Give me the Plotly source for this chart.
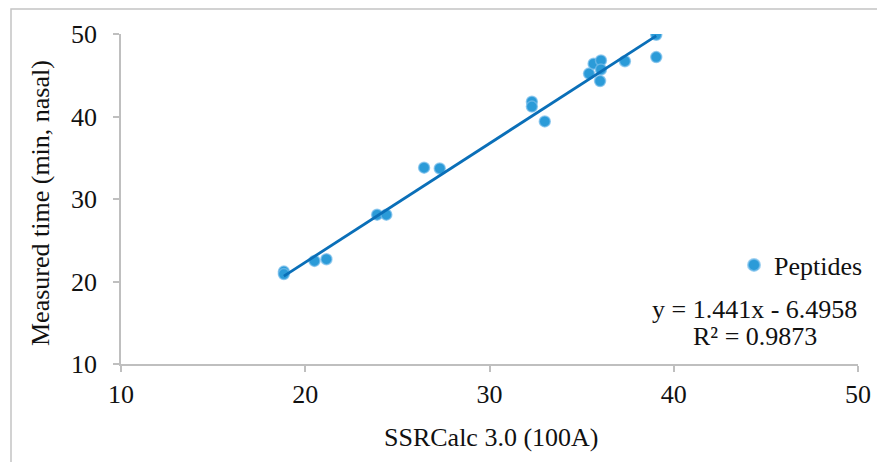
import plotly.graph_objects as go

# Data
ssrcalc = [18.84, 18.84, 20.5, 21.15, 23.9, 24.4, 26.45, 27.3, 32.3, 32.3, 33.0,
           35.4, 35.65, 36.05, 36.05, 36.0, 37.35, 39.05, 39.05]
measured = [21.2, 20.9, 22.5, 22.7, 28.1, 28.1, 33.8, 33.7, 41.8, 41.2, 39.4,
            45.2, 46.4, 46.8, 45.7, 44.3, 46.7, 49.9, 47.2]
slope = 1.441
intercept = -6.4958
r2 = 0.9873

x_ticks = [10, 20, 30, 40, 50]
y_ticks = [10, 20, 30, 40, 50]

FONT = "Liberation Serif, Times New Roman, serif"
FS = 26
OFF = 8  # page body margin offset

W, H = 885, 462
# desired screen positions of plot area
SL, SR, ST, SB = 121, 858, 34, 364
L, T = SL - OFF, ST - OFF
R, B = W - (SR - OFF), H - (SB - OFF)
PW, PH = SR - SL, SB - ST


def px(xs):
    return (xs - SL) / PW


def py(ys):
    return (SB - ys) / PH


fig = go.Figure()
fig.add_trace(go.Scatter(
    x=ssrcalc, y=measured, mode="markers", name="Peptides",
    marker=dict(size=11, color="#2b9bd8", line=dict(color="rgba(120,190,235,0.7)", width=1.5)),
))
fit_x = [min(ssrcalc), max(ssrcalc)]
fit_y = [slope * v + intercept for v in fit_x]
fig.add_trace(go.Scatter(
    x=fit_x, y=fit_y, mode="lines", showlegend=False,
    line=dict(color="#0a6fb8", width=2.8),
))

axis_common = dict(range=[10, 50], showgrid=False, zeroline=False, automargin=False,
                   showline=True, linecolor="#bfbfbf", linewidth=1.5,
                   ticks="outside", tickcolor="#bfbfbf", ticklen=6, tickwidth=1.5,
                   tickfont=dict(size=FS, family=FONT, color="#111"))

fig.update_layout(
    width=W, height=H,
    margin=dict(l=L, r=R, t=T, b=B, autoexpand=False),
    paper_bgcolor="white", plot_bgcolor="white",
    font=dict(family=FONT, size=FS, color="#111"),
    showlegend=True,
    legend=dict(x=px(734), y=py(265), xanchor="left", yanchor="middle",
                bgcolor="rgba(0,0,0,0)", font=dict(size=FS, family=FONT, color="#111"),
                itemsizing="constant"),
    xaxis=dict(tickvals=x_ticks, ticklabelstandoff=0, **axis_common),
    yaxis=dict(tickvals=y_ticks, ticklabelstandoff=11, **axis_common),
)

# axis titles
fig.add_annotation(x=px(491), y=py(437), xref="paper", yref="paper",
                   text="SSRCalc 3.0 (100A)", showarrow=False,
                   xanchor="center", yanchor="middle", font=dict(size=FS, family=FONT, color="#111"))
fig.add_annotation(x=px(40), y=py(203), xref="paper", yref="paper",
                   text="Measured time (min, nasal)", showarrow=False, textangle=-90,
                   xanchor="center", yanchor="middle", font=dict(size=FS, family=FONT, color="#111"))

# trendline equation
fig.add_annotation(x=px(754), y=py(309), xref="paper", yref="paper",
                   text=f"y = {slope}x - {abs(intercept)}", showarrow=False,
                   xanchor="center", yanchor="middle", font=dict(size=FS, family=FONT, color="#111"))
fig.add_annotation(x=px(755), y=py(336), xref="paper", yref="paper",
                   text=f"R² = {r2}", showarrow=False,
                   xanchor="center", yanchor="middle", font=dict(size=FS, family=FONT, color="#111"))

# outer chart border
fig.add_shape(type="rect", xref="paper", yref="paper",
              x0=px(11), x1=px(900), y0=py(480), y1=py(9),
              line=dict(color="#c4c4c4", width=1.5), fillcolor="rgba(0,0,0,0)", layer="above")

fig.write_html("out.html")
